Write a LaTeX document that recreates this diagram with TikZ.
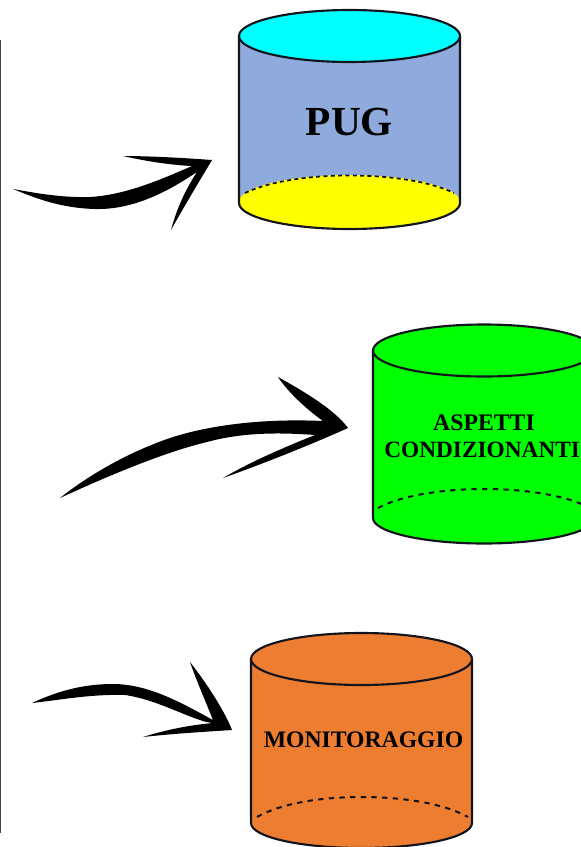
\documentclass[tikz,border=0pt]{standalone}
\usepackage{fontspec}
\setmainfont{Liberation Serif}
\definecolor{pugblue}{HTML}{8FAADC}
\definecolor{pugorange}{HTML}{ED7D31}
\definecolor{pugcyan}{HTML}{00FFFF}
\definecolor{pugyellow}{HTML}{FFFF00}
\definecolor{puggreen}{HTML}{00FF00}
\definecolor{pugline}{HTML}{14141E}
\tikzset{
  cylline/.style={draw=pugline,line width=1.6pt},
  cylbase/.style={draw=pugline,line width=1.5pt,dash pattern=on 4pt off 4pt},
  brush/.style={fill=black,draw=none},
  cyllabel/.style={inner sep=0.75pt,text=black}
}

\begin{document}
\begin{tikzpicture}[x=0.75pt,y=0.75pt,yscale=-1,xscale=1]
\clip (0,0) rectangle (581,847);

%Straight Lines: margin rule
\draw [color={rgb,255:red,70;green,70;blue,70},line width=1.3pt] (0.5,40) -- (0.5,833);

%Shape: Cylinder PUG
\path [fill=pugblue] (239,36) -- (239,203) -- (460,203) -- (460,36) -- cycle;
\path [fill=pugyellow] (349.5,202) ellipse [x radius=110.5,y radius=27];
\draw [cylline] (239,36) -- (239,203) .. controls (239,217.4) and (288.5,229) .. (349.5,229) .. controls (410.5,229) and (460,217.4) .. (460,203) -- (460,36);
\draw [cylbase,line width=1.3pt,dash pattern=on 3pt off 2.5pt] (245,193) .. controls (268,182) and (306,175.5) .. (349.5,175.5) .. controls (393,175.5) and (431,182) .. (454,193);
\draw [cylline,fill=pugcyan] (349.5,36) ellipse [x radius=110.5,y radius=26];

%Shape: Cylinder ASPETTI CONDIZIONANTI
\path [fill=puggreen] (373,350.5) -- (373,518) -- (595,518) -- (595,350.5) -- cycle;
\path [fill=puggreen] (484,518) ellipse [x radius=111,y radius=25];
\draw [cylline] (373,350.5) -- (373,518) .. controls (373,532) and (423,543.5) .. (484,543.5) .. controls (545,543.5) and (595,532) .. (595,518) -- (595,350.5);
\draw [cylbase] (378,508) .. controls (400,496) and (440,489) .. (484,489) .. controls (528,489) and (568,496) .. (590,508);
\draw [cylline,fill=puggreen] (484,350.5) ellipse [x radius=111,y radius=26];

%Shape: Cylinder MONITORAGGIO
\path [fill=pugorange] (251,659) -- (251,823) -- (472,823) -- (472,659) -- cycle;
\path [fill=pugorange] (361.5,823) ellipse [x radius=110.5,y radius=25];
\draw [cylline] (251,659) -- (251,823) .. controls (251,837) and (300.5,848) .. (361.5,848) .. controls (422.5,848) and (472,837) .. (472,823) -- (472,659);
\draw [cylbase] (257,817) .. controls (280,804) and (318,797) .. (361.5,797) .. controls (405,797) and (445,804) .. (468,817);
\draw [cylline,fill=pugorange] (361.5,659) ellipse [x radius=110.5,y radius=26];

%Shape: Brush arrow to PUG
\path [brush] (13,189) .. controls (30,192) and (60,198) .. (90,197) .. controls (125,195) and (160,180) .. (192,166) .. controls (170,165) and (145,161) .. (123,156) .. controls (150,156) and (185,158) .. (212,160) .. controls (200,180) and (185,205) .. (171,230) .. controls (175,215) and (182,195) .. (197,172) .. controls (170,190) and (135,210) .. (95,209) .. controls (60,208) and (35,198) .. (13,189) -- cycle;

%Shape: Brush arrow to ASPETTI CONDIZIONANTI
\path [brush] (60,498) .. controls (85,478) and (125,453) .. (173,437) .. controls (205,427) and (255,418) .. (323,421) .. controls (305,408) and (288,392) .. (278,377) .. controls (305,392) and (335,410) .. (348,428) .. controls (310,445) and (265,463) .. (223,478) .. controls (250,462) and (285,447) .. (315,435) .. controls (275,432) and (240,433) .. (207,442) .. controls (165,452) and (110,475) .. (60,498) -- cycle;

%Shape: Brush arrow to MONITORAGGIO
\path [brush] (32,703) .. controls (60,690) and (85,684) .. (113,684) .. controls (150,684) and (185,705) .. (213,720) .. controls (205,700) and (197,682) .. (190,662) .. controls (208,685) and (225,712) .. (232,730) .. controls (200,732) and (170,734) .. (143,737) .. controls (165,730) and (190,725) .. (213,723) .. controls (195,722) and (160,700) .. (125,695) .. controls (90,694) and (60,700) .. (32,703) -- cycle;

% Text Node
\draw (349.5,122) node [cyllabel,font=\bfseries\fontsize{31}{31}\selectfont] (puglabel) {PUG};
% Text Node
\draw (484,423) node [cyllabel,font=\bfseries\fontsize{17.8}{17.8}\selectfont] (aspettilabel) {ASPETTI};
% Text Node
\draw (383,450) node [cyllabel,anchor=west,font=\bfseries\fontsize{17.5}{17.5}\selectfont] (condlabel) {CONDIZIONANTI};
% Text Node
\draw (363.5,740) node [cyllabel,font=\bfseries\fontsize{17.75}{17.75}\selectfont] (monlabel) {MONITORAGGIO};
\end{tikzpicture}
\end{document}
